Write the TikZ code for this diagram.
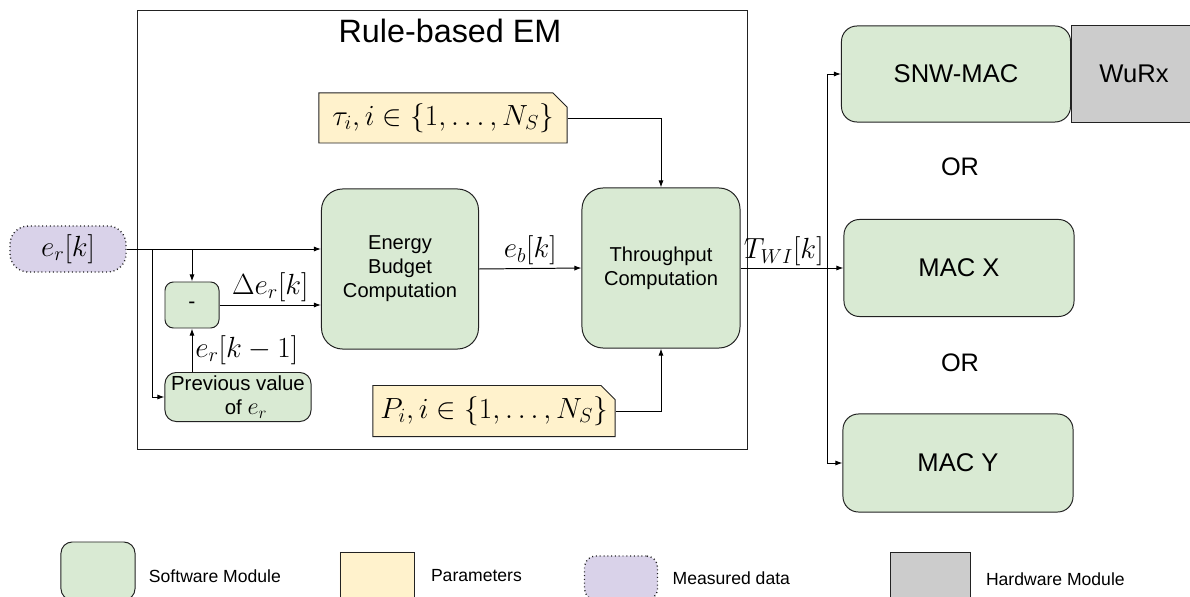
\documentclass[tikz,border=0pt]{standalone}
\usepackage{amsmath,amssymb}
\usepackage{fontspec}
\setmainfont{Liberation Sans}
\usepackage{xcolor}
\usepackage{tikz}
\usetikzlibrary{shapes.misc,arrows.meta,positioning,calc}
\definecolor{EMgreen}{HTML}{D9EAD3}
\definecolor{EMyellow}{HTML}{FFF2CC}
\definecolor{EMpurple}{HTML}{D9D2E9}
\definecolor{EMgray}{HTML}{CCCCCC}
\definecolor{EMline}{HTML}{222222}
\tikzstyle{mbox}  = [rectangle, draw=EMline, line width=0.7pt, inner sep=0pt,
                     align=center]
\tikzstyle{Bsw}   = [mbox, fill=EMgreen, rounded corners=15pt,
                     font=\fontsize{14.3}{17}\selectfont]
\tikzstyle{Bmac}  = [mbox, fill=EMgreen, rounded corners=11pt,
                     font=\fontsize{18.2}{21}\selectfont]
\tikzstyle{Bhw}   = [mbox, fill=EMgray, font=\fontsize{18.2}{21}\selectfont]
\tikzstyle{Bpar}  = [chamfered rectangle, chamfered rectangle corners=north east,
                     chamfered rectangle sep=5pt, draw=EMline, line width=0.7pt,
                     inner sep=0pt, fill=EMyellow, font=\fontsize{21}{24}\selectfont]
\tikzstyle{Bmeas} = [mbox, fill=EMpurple, dotted, line width=1pt, rounded corners=13pt,
                     font=\fontsize{21}{24}\selectfont]
\tikzstyle{lbl}   = [font=\fontsize{21}{24}\selectfont, inner sep=2pt]
\tikzstyle{legtx} = [font=\fontsize{12.5}{15}\selectfont, inner sep=0pt, anchor=west]

\begin{document}
\begin{tikzpicture}[x=0.025cm, y=-0.025cm, >={Latex[length=5pt,width=3.6pt]},
                    line width=0.7pt]
  \useasboundingbox (0,0) rectangle (1190,597);
  % rule-based EM frame
  \draw[EMline] (137,10) rectangle (747,449);
  \node[font=\fontsize{23}{26}\selectfont] (title) at (450,31) {Rule-based EM};

  % blocks
  \node[Bmeas, minimum width=2.9cm, minimum height=1.15cm] (er) at (68,249) {$e_r[k]$};
  \node[Bsw, rounded corners=6pt, minimum width=1.35cm, minimum height=1.15cm,
        font=\fontsize{15}{18}\selectfont] (minus) at (192,305) {-};
  \node[Bsw, rounded corners=8pt, minimum width=3.65cm, minimum height=1.225cm,
        font=\fontsize{14.5}{16}\selectfont] (prev) at (238,397)
       {Previous value\\[1pt] \hspace*{0.4cm}of {\fontsize{18}{16}\selectfont$e_r$}};
  \node[Bsw, minimum width=3.925cm, minimum height=4cm] (energy) at (400,269)
       {Energy\\Budget\\Computation};
  \node[Bsw, minimum width=3.95cm, minimum height=4cm] (thru) at (661,268)
       {Throughput\\Computation};
  \node[Bpar, minimum width=6.2cm, minimum height=1.25cm] (tau) at (443,118)
       {$\tau_i, i\in\{1,\ldots,N_S\}$};
  \node[Bpar, minimum width=6.05cm, minimum height=1.275cm] (pp) at (494,411)
       {$P_i, i\in\{1,\ldots,N_S\}$};

  \node[Bmac, minimum width=5.725cm, minimum height=2.4cm] (snw) at (956,74) {SNW-MAC};
  \node[Bhw, minimum width=3.15cm, minimum height=2.4cm] (wurx) at (1134,74) {WuRx};
  \node[Bmac, minimum width=5.75cm, minimum height=2.425cm] (macx) at (959,268) {MAC X};
  \node[Bmac, minimum width=5.75cm, minimum height=2.45cm] (macy) at (958,463) {MAC Y};
  \node[font=\fontsize{18}{21}\selectfont] (or1) at (960,167) {OR};
  \node[font=\fontsize{18}{21}\selectfont] (or2) at (960,363) {OR};

  % connectors
  \coordinate (b1) at (152,249);
  \draw[->] (er.east) -- (er.east -| energy.west);
  \draw[->] (b1) |- (prev.west);
  \draw[->] (minus.north |- er.east) -- (minus.north);
  \draw[->] (prev.north -| minus) -- (minus.south)
        node[lbl, midway, right] {$e_r[k-1]$};
  \draw[->] (minus.east) -- (minus.east -| energy.west)
        node[lbl, midway, above] {$\Delta e_r[k]$};
  \draw[->] (energy.east) -- (thru.west)
        node[lbl, midway, above, font=\fontsize{22.5}{25}\selectfont] {$e_b[k]$};
  \draw[->] (tau.east) -| (thru.north);
  \draw[->] (pp.east) -| (thru.south);
  \coordinate (split) at (827,268);
  \draw[->] (thru.east) -- (macx.west)
        node[lbl, pos=0.42, above, inner sep=1pt] {$T_{WI}[k]$};
  \draw[->] (split) |- (snw.west);
  \draw[->] (split) |- (macy.west);

  % legend
  \node[Bsw, rounded corners=8pt, minimum width=1.85cm, minimum height=1.45cm] (lsw) at (98,571) {};
  \node[legtx, right=0.325cm of lsw, yshift=-4pt] {Software Module};
  \node[Bpar, minimum width=1.85cm, minimum height=1.2cm] (lpar) at (377,576) {};
  \node[legtx, right=0.4cm of lpar] {Parameters};
  \node[Bmeas, rounded corners=8pt, minimum width=1.825cm, minimum height=1.1cm] (lmeas) at (621,578) {};
  \node[legtx, right=0.35cm of lmeas] {Measured data};
  \node[Bhw, minimum width=2cm, minimum height=1.2cm] (lhw) at (930,576) {};
  \node[legtx, right=0.375cm of lhw, yshift=-2pt] {Hardware Module};
\end{tikzpicture}
\end{document}
